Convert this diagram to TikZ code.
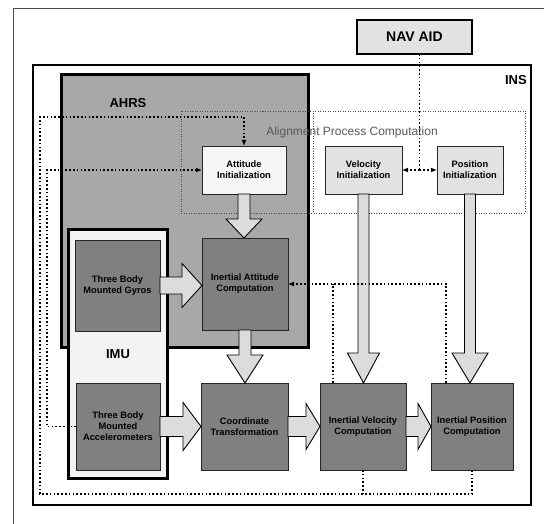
\documentclass[tikz,border=0pt]{standalone}
\usepackage{fontspec}
\setmainfont{Liberation Sans}
\usetikzlibrary{calc,arrows.meta}
\definecolor{ahrsgray}{HTML}{A8A8A8}
\definecolor{darkfill}{HTML}{808080}
\definecolor{lightfill}{HTML}{E2E2E2}
\definecolor{initwhite}{HTML}{F6F6F6}
\definecolor{arrowfill}{HTML}{DCDCDC}
\definecolor{imufill}{HTML}{F3F3F3}
\tikzset{
  heavyframe/.style={draw=black, line width=2.4pt, inner sep=0pt, outer sep=0pt},
  boxtext/.style={font=\fontsize{9.3}{11}\selectfont\bfseries, align=center, text=black},
  darkbox/.style={draw=black!85, line width=0.7pt, fill=darkfill, inner sep=1pt, outer sep=0pt, boxtext},
  initbox/.style={draw=black!85, line width=0.7pt, fill=lightfill, inner sep=1pt, outer sep=0pt, boxtext},
  headtext/.style={font=\fontsize{13}{15}\selectfont\bfseries, inner sep=0pt},
  dotline/.style={draw=black, line width=1.4pt, dash pattern=on 1.6pt off 2.2pt},
  aligndot/.style={draw=black!70, line width=0.8pt, dash pattern=on 1pt off 1.5pt},
  tipped/.style={-{Latex[length=6pt,width=5pt]}},
  bigarrow/.style={draw=black, line width=0.9pt, fill=arrowfill, line join=miter},
}
\newcommand{\arrDown}[5]{%
  \path[bigarrow] let \p1=(#1.south), \p2=(#2.north) in
   (\x1-#3,\y1) -- (\x1-#3,\y2+#5) -- (\x1-#4,\y2+#5) -- (\x1,\y2) --
   (\x1+#4,\y2+#5) -- (\x1+#3,\y2+#5) -- (\x1+#3,\y1) -- cycle;}
\newcommand{\arrRight}[5]{%
  \path[bigarrow] let \p1=(#1.east), \p2=(#2.west) in
   (\x1,\y1+#3) -- (\x2-#5,\y1+#3) -- (\x2-#5,\y1+#4) -- (\x2,\y1) --
   (\x2-#5,\y1-#4) -- (\x2-#5,\y1-#3) -- (\x1,\y1-#3) -- cycle;}
\begin{document}
\begin{tikzpicture}[x=1pt,y=-1pt]
\useasboundingbox (0,0) rectangle (544,524);
% outer partial frame
\draw[black!70, line width=0.8pt] (13,524) -- (13,8) -- (544,8);
% frames
\node[heavyframe, fill=white, minimum width=498pt, minimum height=440pt] (ins) at (282,285) {};
\node[headtext, anchor=east] (inslabel) at (527,80) {INS};
\node[draw=black, line width=1.4pt, fill=lightfill, inner sep=0pt, outer sep=0pt,
      minimum width=115pt, minimum height=34pt, font=\fontsize{14}{16}\selectfont\bfseries] (navaid) at (414.5,37) {NAV AID};
\node[heavyframe, line width=3pt, fill=ahrsgray, minimum width=247pt, minimum height=272pt] (ahrs) at (184.5,211) {};
\node[headtext] (ahrslabel) at (128,103) {AHRS};
\node[aligndot, minimum width=344pt, minimum height=102pt, inner sep=0pt, outer sep=0pt] (align) at (353,162) {};
\draw[aligndot] ($(align.north west)+(132,0)$) -- ($(align.south west)+(132,0)$);
\node[font=\fontsize{12}{14}\selectfont, text=black!65] (aligntitle) at (352,132) {Alignment Process Computation};
\node[heavyframe, line width=3pt, fill=imufill, minimum width=99pt, minimum height=248pt] (imu) at (117.5,354) {};
\node[headtext] (imulabel) at (118,354) {IMU};
% boxes
\node[initbox, fill=initwhite, minimum width=84pt, minimum height=48pt] (attinit) at (244,170) {Attitude\\Initialization};
\node[initbox, minimum width=77pt, minimum height=48pt] (velinit) at (363.5,170) {Velocity\\Initialization};
\node[initbox, minimum width=66pt, minimum height=48pt] (posinit) at (470,170) {Position\\Initialization};
\node[darkbox, minimum width=86pt, minimum height=92pt] (inatt) at (245,284) {Inertial Attitude\\Computation};
\node[darkbox, minimum width=85pt, minimum height=91pt] (gyros) at (117.5,285.5) {Three Body\\Mounted Gyros};
\node[darkbox, minimum width=84pt, minimum height=87pt] (accel) at (118,426.5) {Three Body\\Mounted\\Accelerometers};
\node[darkbox, minimum width=87pt, minimum height=87pt] (coord) at (244.5,426.5) {Coordinate\\Transformation};
\node[darkbox, minimum width=86pt, minimum height=87pt] (invel) at (363,426.5) {Inertial Velocity\\Computation};
\node[darkbox, minimum width=82pt, minimum height=87pt] (inpos) at (472,426.5) {Inertial Position\\Computation};
% big arrows
\arrDown{attinit}{inatt}{6pt}{18pt}{19pt}
\arrDown{inatt}{coord}{6pt}{18pt}{28pt}
\arrDown{velinit}{invel}{5.5pt}{16pt}{30pt}
\arrDown{posinit}{inpos}{5.5pt}{18pt}{30pt}
\arrRight{gyros}{inatt}{8.5pt}{22pt}{20pt}
\arrRight{accel}{coord}{10pt}{24pt}{18pt}
\arrRight{coord}{invel}{10pt}{23pt}{14pt}
\arrRight{invel}{inpos}{10pt}{23pt}{13pt}
% dotted connectors
\coordinate (navj) at (419.5,170);
\draw[dotline] (navaid.south -| navj) -- (navj);
\draw[dotline, tipped] (navj) -- (velinit.east);
\draw[dotline, tipped] (navj) -- (posinit.west);
\coordinate (lb) at (40,494);
\coordinate (lt) at (40,117);
\draw[dotline] (invel.south) -- (invel.south |- lb);
\draw[dotline, tipped] (inpos.south) -- (inpos.south |- lb) -- (lb) -- (lt) -- (attinit.north |- lt) -- (attinit.north);
\coordinate (la) at (47,170);
\draw[dotline, tipped] (accel.west) -- (accel.west -| la) -- (la) -- (attinit.west);
\coordinate (vtop) at ($(invel.north west)+(13,0)$);
\coordinate (ptop) at ($(inpos.north west)+(15,0)$);
\draw[dotline] (vtop) -- (vtop |- inatt.east);
\draw[dotline, tipped] (ptop) -- (ptop |- inatt.east) -- (inatt.east);
\end{tikzpicture}
\end{document}
